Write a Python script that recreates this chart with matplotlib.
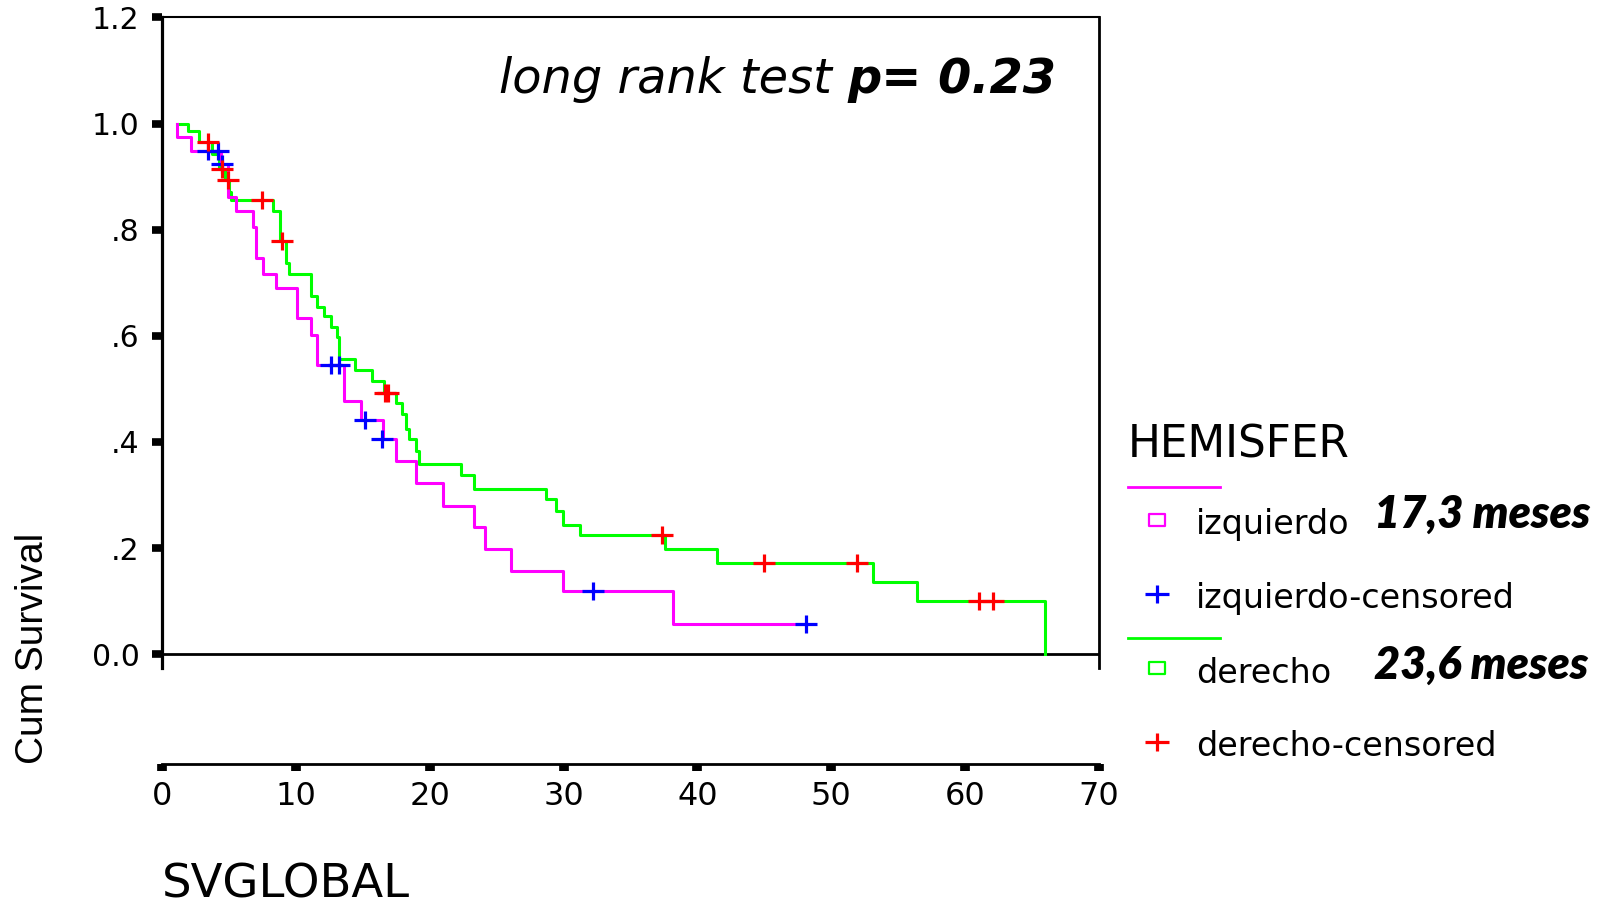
import matplotlib
matplotlib.use("Agg")
import matplotlib.pyplot as plt
from matplotlib.path import Path

# survival steps per hemisphere (time in months, cumulative survival)
izq_t = [1.1, 1.1, 2.14, 4.4, 4.95, 5.5, 6.77, 7.02, 7.52, 8.52, 10.06, 11.1, 11.6,
         13.6, 14.9, 16.5, 17.48, 18.98, 21.0, 23.3, 24.1, 26.07, 29.97, 38.15, 48.1]
izq_s = [1.0, 0.975, 0.949, 0.923, 0.862, 0.835, 0.805, 0.747, 0.717, 0.690, 0.633, 0.602, 0.545,
         0.478, 0.441, 0.405, 0.364, 0.322, 0.280, 0.240, 0.198, 0.156, 0.120, 0.057, 0.057]

der_t = [1.1, 1.97, 2.76, 3.71, 4.26, 4.7, 5.02, 5.19, 8.27, 8.81, 9.24, 9.5, 11.1, 11.6,
         12.09, 12.59, 13.09, 13.2, 14.42, 15.68, 16.6, 17.45, 17.96, 18.22, 18.47, 18.97,
         19.22, 22.35, 23.3, 28.68, 29.43, 29.98, 31.22, 37.58, 41.44, 53.14, 56.44, 65.96]
der_s = [1.0, 0.986, 0.965, 0.943, 0.914, 0.893, 0.871, 0.856, 0.835, 0.779, 0.737, 0.716, 0.675, 0.654,
         0.638, 0.616, 0.597, 0.556, 0.536, 0.514, 0.493, 0.473, 0.452, 0.425, 0.405, 0.383,
         0.359, 0.338, 0.312, 0.292, 0.270, 0.244, 0.224, 0.199, 0.172, 0.136, 0.0995, 0.0]

# censored cases
izq_cens_t = [3.41, 4.16, 4.46, 12.6, 13.25, 15.17, 16.45, 32.2, 48.1]
izq_cens_s = [0.949, 0.949, 0.923, 0.545, 0.545, 0.441, 0.405, 0.120, 0.057]
der_cens_t = [3.41, 4.46, 4.95, 7.5, 8.99, 16.66, 16.9, 37.38, 45.0, 51.9, 61.06, 62.05]
der_cens_s = [0.965, 0.914, 0.893, 0.856, 0.779, 0.493, 0.493, 0.224, 0.172, 0.172, 0.0995, 0.0995]

y_ticks = [0.0, 0.2, 0.4, 0.6, 0.8, 1.0, 1.2]
y_labels = ["0.0", ".2", ".4", ".6", ".8", "1.0", "1.2"]
x_ticks = [0, 10, 20, 30, 40, 50, 60, 70]

groups = ["izquierdo", "izquierdo-censored", "derecho", "derecho-censored"]
medians = ["17,3 meses", "23,6 meses"]

MAG, BLU, GRN, RED = "#ff00ff", "#0000ff", "#00ff00", "#ff0000"

plt.rcParams["font.family"] = "DejaVu Sans"

W, H = 1608, 906
fig = plt.figure(figsize=(W / 100, H / 100), dpi=100)

def px_box(x0, y0, x1, y1):
    return [x0 / W, 1 - y1 / H, (x1 - x0) / W, (y1 - y0) / H]

# wide plus and flat hollow box, like the SPSS symbols
plus = Path([(-1.25, 0), (1.25, 0), (0, -1), (0, 1)],
            [Path.MOVETO, Path.LINETO, Path.MOVETO, Path.LINETO])
box = Path([(-1.35, -1), (1.35, -1), (1.35, 1), (-1.35, 1), (-1.35, -1)],
           [Path.MOVETO, Path.LINETO, Path.LINETO, Path.LINETO, Path.CLOSEPOLY])

# overlay in pixel units for the free text and legend
lg = fig.add_axes([0, 0, 1, 1])
lg.set_xlim(0, W)
lg.set_ylim(H, 0)
lg.axis("off")

ax = fig.add_axes(px_box(162, 17.4, 1099, 668))
ax.set_xlim(0, 70)
ax.set_ylim(-0.026, 1.2)
ax.patch.set_alpha(0)
ax.spines["bottom"].set_visible(False)
ax.spines["left"].set_linewidth(2.3)
ax.spines["right"].set_linewidth(2.0)
ax.spines["top"].set_linewidth(1.5)
ax.axhline(0, color="black", lw=2.0, zorder=1)
ax.set_xticks([])
ax.set_yticks(y_ticks)
ax.set_yticklabels(y_labels)
ax.tick_params(axis="y", direction="out", length=7.2, width=5.5, pad=9.0, labelsize=21.5)

ax.step(der_t, der_s, where="post", color=GRN, lw=2.2, zorder=3)
ax.step(izq_t, izq_s, where="post", color=MAG, lw=2.2, zorder=3)
ax.plot(izq_cens_t, izq_cens_s, ls="none", marker=plus, ms=16.5, mew=2.3, color=BLU, zorder=4)
ax.plot(der_cens_t, der_cens_s, ls="none", marker=plus, ms=16.5, mew=2.3, color=RED, zorder=4)

# detached time axis below the plot frame
ax2 = fig.add_axes(px_box(162, 763, 1099, 764))
ax2.set_xlim(0, 70)
ax2.set_ylim(0, 1)
ax2.patch.set_alpha(0)
for s in ["left", "right", "top"]:
    ax2.spines[s].set_visible(False)
ax2.spines["bottom"].set_linewidth(2.0)
ax2.set_yticks([])
ax2.set_xticks(x_ticks)
ax2.tick_params(axis="x", direction="out", length=5, width=7, pad=7, labelsize=23)

lg.text(33, 648, "Cum Survival", rotation=90, ha="center", va="center",
        fontsize=28, family=["Liberation Sans", "DejaVu Sans"])
lg.text(162, 898, "SVGLOBAL", ha="left", va="baseline", fontsize=33.5)

t1 = lg.text(499, 93, "long rank test", ha="left", va="baseline",
             fontsize=34.5, style="italic")
lg.annotate("p= 0.23", xy=(1, 0), xycoords=t1, xytext=(11, 0), textcoords="offset points",
            ha="left", va="bottom", fontsize=34.5, style="italic", weight="bold")

# legend
lg.text(1128, 457, "HEMISFER", ha="left", va="baseline", fontsize=31.5)
lg.plot([1128, 1220], [487, 487], color=MAG, lw=2)
lg.plot([1128, 1220], [638, 638], color=GRN, lw=2)
lg.plot([1157], [520], marker=box, ms=12.2, mfc="none", mec=MAG, mew=1.6, ls="none")
lg.plot([1157], [594], marker=plus, ms=17, mew=2.3, color=BLU, ls="none")
lg.plot([1157], [668], marker=box, ms=12.2, mfc="none", mec=GRN, mew=1.6, ls="none")
lg.plot([1157], [742], marker=plus, ms=17, mew=2.3, color=RED, ls="none")
for lab, yb in zip(groups, [534, 608, 683, 756]):
    lg.text(1196, yb, lab, ha="left", va="baseline", fontsize=24)
for lab, yb in zip(medians, [528, 679]):
    lg.text(1374, yb, lab, ha="left", va="baseline", fontsize=32.5,
            family=["Lato", "DejaVu Sans"], style="italic", weight="heavy")

fig.savefig("out.png", dpi=100, facecolor="white")
